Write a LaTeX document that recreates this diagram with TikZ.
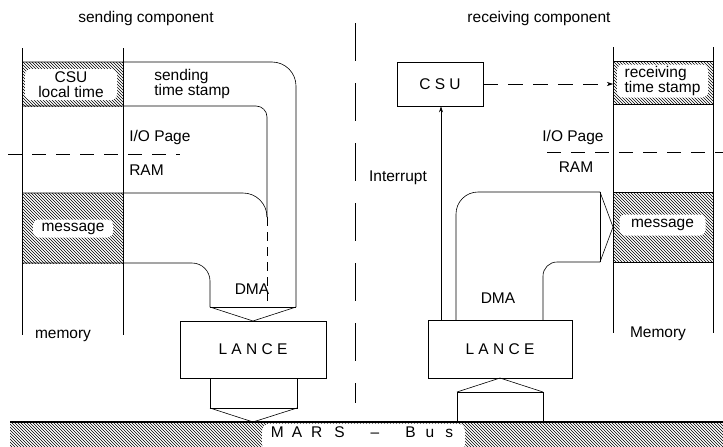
\documentclass[tikz,border=0pt]{standalone}
\usepackage{fontspec}
\setmainfont{Liberation Sans}
\usetikzlibrary{patterns,arrows.meta}
\begin{document}
\begin{tikzpicture}[x=1pt,y=-1pt,line width=0.6pt,
  every node/.style={font=\fontsize{15.5}{14.5}\selectfont,inner sep=0pt},
  hatch/.style={pattern=north west lines,pattern color=black},
  tag/.style={fill=white,rounded corners=6pt},
  chip/.style={draw,fill=white,line width=0.7pt},
  sepline/.style={dash pattern=on 14pt off 10pt},
  divider/.style={dash pattern=on 38pt off 22pt},
  tip/.style={-{Stealth[length=6pt,width=4pt]}}]
\useasboundingbox (0,0) rectangle (723,447);

% headings and the dividing line
\node (hsend) at (146,18) {sending component};
\node (hrecv) at (539,18) {receiving component};
\draw[divider] (355,23) -- (355,403);

% ---------- sending side: memory ----------
\fill[hatch] (22,62) rectangle (123,106);
\fill[hatch] (22,193) rectangle (123,263);
\draw (22,48) -- (22,335);
\draw (123,48) -- (123,335);
\node[tag,minimum width=92,minimum height=31,align=center] (csuL) at (71,84.5) {CSU\\local time};
\node[tag,minimum width=80,minimum height=18] (msgL) at (73,228.5) {message};
\node (memL) at (63,336) {memory};

% data paths from memory to the LANCE
\draw[rounded corners=24pt] (22,62) -- (296,62) -- (296,307);
\draw[rounded corners=11pt] (22,106) -- (267,106) -- (267,217);
\draw[rounded corners=24pt] (22,193) -- (267,193) -- (267,217);
\draw[dash pattern=on 9pt off 6pt] (267,217) -- (267,307);
\draw[rounded corners=18pt] (22,263) -- (210,263) -- (210,307);
\draw (210,307) -- (296,307);
\draw (210,307) -- (253,321) -- (296,307);

\node[anchor=west,align=left] (stamp) at (154,84) {sending\\time stamp};
\node[anchor=west] (ioL) at (129,137) {I/O Page};
\node[anchor=west] (ramL) at (129,170) {RAM};
\draw[sepline] (8,154) -- (180,154);
\node (dmaL) at (252,289) {DMA};

% LANCE and its link to the bus
\node[chip,minimum width=146,minimum height=57] (lanceL) at (253,349.5) {L A N C E};
\draw (210,378) -- (210,408) -- (297,408) -- (297,378);
\draw (210,408) -- (253,422) -- (297,408);

% ---------- receiving side ----------
\node[chip,minimum width=86,minimum height=44] (csuR) at (440,84) {C S U};
\node[chip,minimum width=144,minimum height=58] (lanceR) at (500,349) {L A N C E};
\coordinate (intx) at (441,0);
\draw[tip] (lanceR.north -| intx) -- (csuR.south -| intx);
\node (intr) at (398,178) {Interrupt};

\draw[rounded corners=22pt] (456,320) -- (456,192) -- (600,192);
\draw (600,192) -- (600,262);
\draw (600,192) -- (613,227) -- (600,262);
\draw[rounded corners=14pt] (600,262) -- (543,262) -- (543,320);
\node (dmaR) at (498,298) {DMA};

\draw (457,422) -- (457,392) -- (543,392) -- (543,422);
\draw (457,392) -- (500,378) -- (543,392);

% receiving memory
\fill[hatch] (613,61) rectangle (713,104);
\fill[hatch] (613,192) rectangle (713,262);
\draw (613,47) -- (613,333);
\draw (713,47) -- (713,333);
\foreach \yy in {61,104,192,262} \draw (613,\yy) -- (713,\yy);
\node[tag,minimum width=91,minimum height=33,align=left] (tsR) at (662.5,81) {receiving\\time stamp};
\node[tag,minimum width=86,minimum height=21] (msgR) at (662.5,225) {message};
\node (memR) at (658,334) {Memory};
\node (ioR) at (573,137) {I/O Page};
\node (ramR) at (576,167) {RAM};
\draw[sepline] (547,152) -- (723,152);

\coordinate (tsin) at (613,84);
\draw[tip,dash pattern=on 15pt off 10pt] (csuR.east) -- (tsin);

% ---------- MARS bus ----------
\fill[hatch] (10,422) rectangle (723,447);
\draw[line width=1.2pt] (10,422) -- (723,422);
\fill[white,rounded corners=8pt] (262,423.5) rectangle (465,452);
\node (bus) at (362,432) {M\hspace{8pt}A\hspace{9pt}R\hspace{12pt}S\hspace{26pt}--\hspace{26pt}B\hspace{10pt}u\hspace{11pt}s};
\end{tikzpicture}
\end{document}
